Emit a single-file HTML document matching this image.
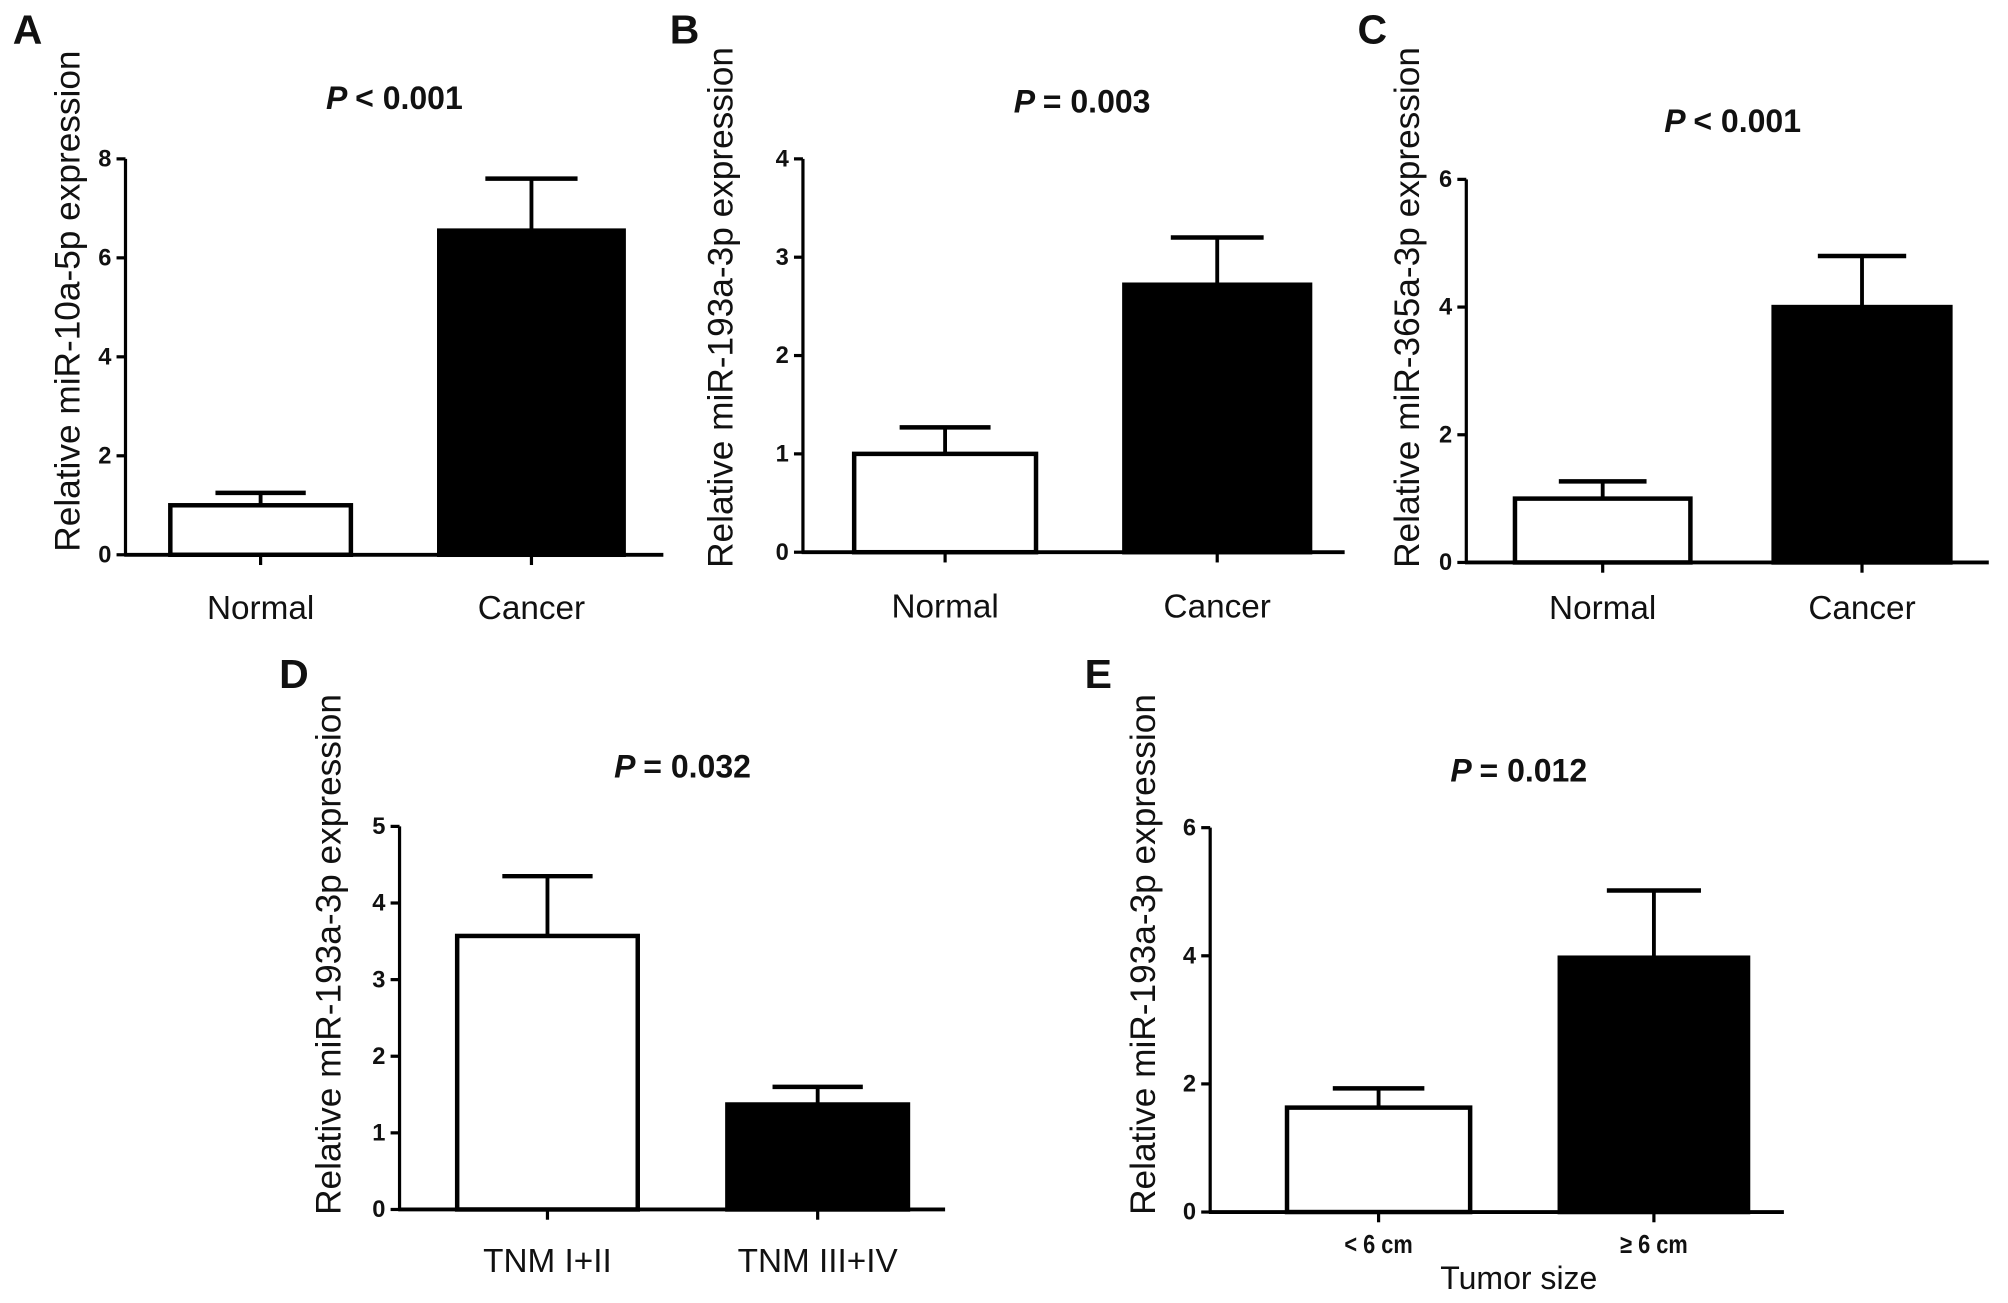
<!DOCTYPE html>
<html><head><meta charset="utf-8"><style>
html,body{margin:0;padding:0;background:#fff;}
svg{display:block;}
text{font-family:"Liberation Sans",sans-serif;fill:#111;}
</style></head><body>
<svg id="fig" width="2008" height="1303" viewBox="0 0 1568 1017" preserveAspectRatio="none" xmlns="http://www.w3.org/2000/svg"></svg>
<script>
// ---- data ----
const panelLetters = ["A","B","C","D","E"];
const panelTitles = ["< 0.001","= 0.003","< 0.001","= 0.032","= 0.012"];
const yAxisTitles = ["Relative miR-10a-5p expression","Relative miR-193a-3p expression","Relative miR-365a-3p expression","Relative miR-193a-3p expression","Relative miR-193a-3p expression"];
const catA = ["Normal","Cancer"];
const catD = ["TNM I+II","TNM III+IV"];
const catE = ["< 6 cm","\u2265 6 cm"];
const meanA = [1.0, 6.55], errA = [1.25, 7.6], ticksA = [0,2,4,6,8];
const meanB = [1.0, 2.72], errB = [1.27, 3.2], ticksB = [0,1,2,3,4];
const meanC = [1.0, 4.0], errC = [1.27, 4.8], ticksC = [0,2,4,6];
const meanD = [3.57, 1.37], errD = [4.35, 1.6], ticksD = [0,1,2,3,4,5];
const meanE = [1.63, 3.97], errE = [1.93, 5.02], ticksE = [0,2,4,6];

// ---- layout (not data) ----
const layouts = [
 {ax:98, y0:433, yTop:124, xEnd:518, bars:[[133,274],[343,487]], letter:[10,34], title:[308,85], yt:[62,235], lab:483, labSize:26},
 {ax:627, y0:431, yTop:124, xEnd:1050, bars:[[667,809],[878,1023]], letter:[523,34], title:[845,88], yt:[572,240], lab:482, labSize:26},
 {ax:1145, y0:439, yTop:140, xEnd:1553, bars:[[1183,1320],[1385,1523]], letter:[1060,34], title:[1353,103], yt:[1108,240], lab:483, labSize:26},
 {ax:312, y0:944, yTop:645, xEnd:738, bars:[[357,498],[568,709]], letter:[218,537], title:[533,607], yt:[266,745], lab:993, labSize:26},
 {ax:945, y0:946, yTop:646, xEnd:1393, bars:[[1005,1148],[1218,1365]], letter:[847,537], title:[1186,610], yt:[902,745], lab:978, labSize:20, condensed:true}
];
const cats = [catA,catA,catA,catD,catE];
const means = [meanA,meanB,meanC,meanD,meanE];
const errs = [errA,errB,errC,errD,errE];
const ticks = [ticksA,ticksB,ticksC,ticksD,ticksE];
const NS = "http://www.w3.org/2000/svg";
const svg = document.getElementById("fig");
function mk(tag, attrs, parent){const e=document.createElementNS(NS,tag);for(const k in attrs)e.setAttribute(k,attrs[k]);(parent||svg).appendChild(e);return e;}

for (let p=0;p<5;p++){
  const L = layouts[p], tk = ticks[p];
  const g = mk("g",{});
  
  
  const maxV = tk[tk.length-1];
  const y = v => L.y0 - (v/maxV)*(L.y0-L.yTop);
  const lt = mk("text",{x:L.letter[0],y:L.letter[1],"font-size":32,"font-weight":"bold"},g);
  lt.textContent = panelLetters[p];
  
  
  const tt = mk("text",{x:L.title[0],y:L.title[1],"font-size":25,"font-weight":"bold","text-anchor":"middle"},g);
  
  
  const ts = mk("tspan",{"font-style":"italic"},tt); ts.textContent="P ";
  const ts2 = mk("tspan",{},tt); ts2.textContent=panelTitles[p];
  const yt = mk("text",{x:0,y:0,"font-size":27.5,"text-anchor":"middle",transform:`translate(${L.yt[0]},${L.yt[1]}) rotate(-90)`},g);
  yt.textContent = yAxisTitles[p];
  
  
  const ya = mk("line",{x1:L.ax,y1:L.yTop,x2:L.ax,y2:L.y0,stroke:"#000","stroke-width":2.5},g);
  
  
  const xa = mk("line",{x1:L.ax-1,y1:L.y0,x2:L.xEnd,y2:L.y0,stroke:"#000","stroke-width":3},g);
  
  
  tk.forEach(v=>{
    mk("line",{x1:L.ax-7,y1:y(v),x2:L.ax,y2:y(v),stroke:"#000","stroke-width":2.5},g);
    const t = mk("text",{x:L.ax-11,y:y(v)+6,"font-size":18.5,"font-weight":"bold","text-anchor":"end"},g);
    t.textContent = v;
    
    
  });
  for (let i=0;i<2;i++){
    const [x1,x2] = L.bars[i], cx=(x1+x2)/2, w=(x2-x1)*0.5;
    const e = mk("line",{x1:cx,y1:y(means[p][i]),x2:cx,y2:y(errs[p][i]),stroke:"#000","stroke-width":3},g);
    
    
    const cap = mk("line",{x1:cx-w/2,y1:y(errs[p][i]),x2:cx+w/2,y2:y(errs[p][i]),stroke:"#000","stroke-width":3.5},g);
    
    
    const r = mk("rect",{x:x1,y:y(means[p][i]),width:x2-x1,height:L.y0-y(means[p][i]),fill:i===0?"#fff":"#000",stroke:"#000","stroke-width":3.5},g);
    
    
    mk("line",{x1:cx,y1:L.y0,x2:cx,y2:L.y0+8,stroke:"#000","stroke-width":2.5},g);
    const lab = mk("text",{x:cx,y:L.lab,"font-size":L.labSize,"text-anchor":"middle","font-weight":L.condensed?"bold":"normal"},g);
    if (L.condensed) lab.setAttribute("transform",`translate(${cx},0) scale(0.85,1) translate(${-cx},0)`);
    lab.textContent = cats[p][i];
    
    
  }
  if (p===4){
    const xt = mk("text",{x:1186,y:1006,"font-size":25,"text-anchor":"middle"},g);
    xt.textContent = "Tumor size";
    
    
  }
}
</script>
</body></html>
